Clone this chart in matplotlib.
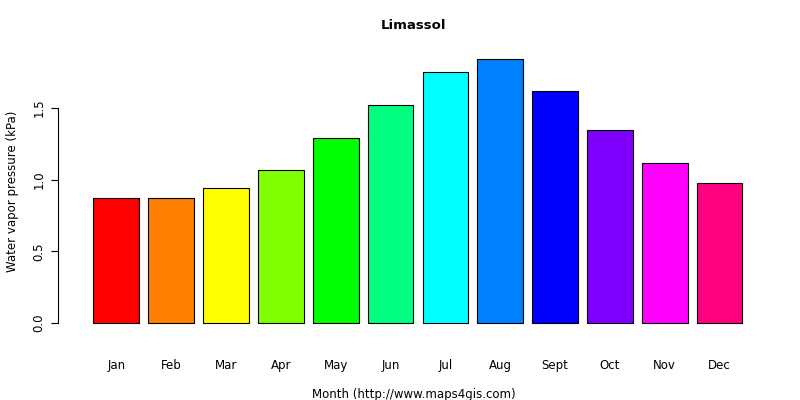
import matplotlib
matplotlib.use("Agg")
import matplotlib.pyplot as plt
import colorsys

months = ["Jan","Feb","Mar","Apr","May","Jun","Jul","Aug","Sept","Oct","Nov","Dec"]
values = [0.87,0.87,0.94,1.07,1.29,1.52,1.75,1.84,1.62,1.35,1.12,0.98]
yticks = [0.0,0.5,1.0,1.5]

colors = [colorsys.hsv_to_rgb(i/12,1,1) for i in range(12)]
fig = plt.figure(figsize=(8,4), dpi=100)
ax = fig.add_axes([0.0725,0.166,0.961-0.0725,0.878-0.166])
xs = [0.7+1.2*i for i in range(12)]
ax.bar(xs, values, width=1, color=colors, edgecolor="black", linewidth=0.8)
n = 14.4
ax.set_xlim(-0.04*n, n*1.04)
top = max(values)
ax.set_ylim(-0.04*top, top*1.04)
for s in ["top","right","bottom"]:
    ax.spines[s].set_visible(False)
ax.spines["left"].set_bounds(0,1.5)
ax.set_yticks(yticks)
ax.set_yticklabels([f"{v:.1f}" for v in yticks], rotation=90, va="center", fontsize=8.5)
ax.set_xticks(xs)
ax.set_xticklabels(months, fontsize=8.5)
ax.tick_params(axis="x", length=0, pad=18)
ax.tick_params(axis="y", length=5, pad=4)
ax.set_title("Limassol", fontsize=9.5, fontweight="bold", pad=14)
ax.set_xlabel("Month (http://www.maps4gis.com)", fontsize=8.5, labelpad=12)
ax.set_ylabel("Water vapor pressure (kPa)", fontsize=8.5, labelpad=10)
fig.savefig("out.png", dpi=100)
